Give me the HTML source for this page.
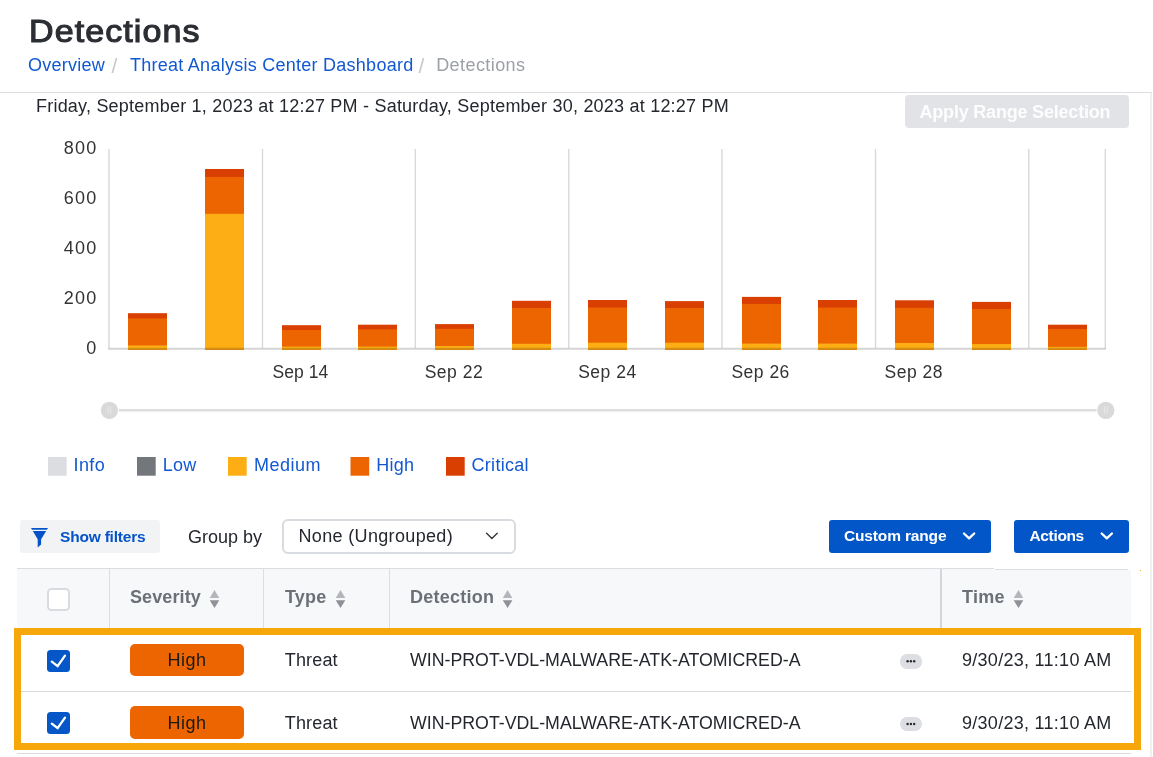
<!DOCTYPE html>
<html lang="en"><head><meta charset="utf-8"><title>Detections</title>
<style>
html,body{margin:0;padding:0;background:#fff;}
body{width:1153px;height:757px;position:relative;overflow:hidden;font-family:"Liberation Sans",sans-serif;}
.t{position:absolute;white-space:nowrap;line-height:1;}
.b{position:absolute;}
svg{position:absolute;left:0;top:0;overflow:visible;}
</style></head><body>

<span class="t" style="left:29.3px;top:16.44px;font-size:31.5px;color:#2b2e33;letter-spacing:1.0px;-webkit-text-stroke:1.1px #2b2e33;transform:scaleX(1.08);transform-origin:0 0;">Detections</span>
<span class="t" style="left:28px;top:56.26px;font-size:18px;color:#1259d1;letter-spacing:0.25px;">Overview</span>
<span class="t" style="left:111.6px;top:54.82px;font-size:21px;color:#c4c7cc;">/</span>
<span class="t" style="left:130px;top:56.26px;font-size:18px;color:#1259d1;letter-spacing:0.26px;">Threat Analysis Center Dashboard</span>
<span class="t" style="left:418.6px;top:54.82px;font-size:21px;color:#c4c7cc;">/</span>
<span class="t" style="left:436.2px;top:56.26px;font-size:18px;color:#9ca0a7;letter-spacing:0.42px;">Detections</span>
<div class="b" style="left:0;top:92px;width:1152px;height:1px;background:#dcdee3"></div>
<div class="b" style="left:1150px;top:93px;width:2px;height:664px;background:#f0f0f1"></div>
<span class="t" style="left:36px;top:96.56px;font-size:18px;color:#24282e;letter-spacing:0.215px;">Friday, September 1, 2023 at 12:27 PM - Saturday, September 30, 2023 at 12:27 PM</span>
<div class="b" style="left:905px;top:95px;width:224px;height:33px;background:#e1e3e6;border-radius:4px"></div>
<span class="t" style="left:919.5px;top:102.96px;font-size:18px;color:#fdfdfd;font-weight:700;letter-spacing:-0.2px;">Apply Range Selection</span>
<svg width="1153" height="757" viewBox="0 0 1153 757" font-family="'Liberation Sans',sans-serif">
<line x1="109.0" y1="149" x2="109.0" y2="348" stroke="#d9d9d9" stroke-width="1.4"/>
<line x1="262.5" y1="149" x2="262.5" y2="348" stroke="#d9d9d9" stroke-width="1.4"/>
<line x1="415.3" y1="149" x2="415.3" y2="348" stroke="#d9d9d9" stroke-width="1.4"/>
<line x1="568.8" y1="149" x2="568.8" y2="348" stroke="#d9d9d9" stroke-width="1.4"/>
<line x1="722.0" y1="149" x2="722.0" y2="348" stroke="#d9d9d9" stroke-width="1.4"/>
<line x1="875.5" y1="149" x2="875.5" y2="348" stroke="#d9d9d9" stroke-width="1.4"/>
<line x1="1028.8" y1="149" x2="1028.8" y2="348" stroke="#d9d9d9" stroke-width="1.4"/>
<line x1="1105.3" y1="149" x2="1105.3" y2="348" stroke="#d9d9d9" stroke-width="1.4"/>
<rect x="128" y="313.2" width="39" height="36.5" fill="#d93f00"/>
<rect x="128" y="318.4" width="39" height="31.3" fill="#ec6500"/>
<rect x="128" y="345.5" width="39" height="4.2" fill="#fdae14"/>
<rect x="205" y="169.0" width="39" height="180.7" fill="#d93f00"/>
<rect x="205" y="176.9" width="39" height="172.8" fill="#ec6500"/>
<rect x="205" y="213.8" width="39" height="135.9" fill="#fdae14"/>
<rect x="282" y="325.2" width="39" height="24.5" fill="#d93f00"/>
<rect x="282" y="330.0" width="39" height="19.7" fill="#ec6500"/>
<rect x="282" y="346.6" width="39" height="3.1" fill="#fdae14"/>
<rect x="358" y="324.7" width="39" height="25.0" fill="#d93f00"/>
<rect x="358" y="329.4" width="39" height="20.3" fill="#ec6500"/>
<rect x="358" y="346.6" width="39" height="3.1" fill="#fdae14"/>
<rect x="435" y="324.1" width="39" height="25.6" fill="#d93f00"/>
<rect x="435" y="328.8" width="39" height="20.9" fill="#ec6500"/>
<rect x="435" y="346.0" width="39" height="3.7" fill="#fdae14"/>
<rect x="512" y="300.8" width="39" height="48.9" fill="#d93f00"/>
<rect x="512" y="308.0" width="39" height="41.7" fill="#ec6500"/>
<rect x="512" y="343.8" width="39" height="5.9" fill="#fdae14"/>
<rect x="588" y="300.0" width="39" height="49.7" fill="#d93f00"/>
<rect x="588" y="307.5" width="39" height="42.2" fill="#ec6500"/>
<rect x="588" y="342.7" width="39" height="7.0" fill="#fdae14"/>
<rect x="665" y="301.1" width="39" height="48.6" fill="#d93f00"/>
<rect x="665" y="308.0" width="39" height="41.7" fill="#ec6500"/>
<rect x="665" y="342.7" width="39" height="7.0" fill="#fdae14"/>
<rect x="742" y="296.9" width="39" height="52.8" fill="#d93f00"/>
<rect x="742" y="303.9" width="39" height="45.8" fill="#ec6500"/>
<rect x="742" y="343.6" width="39" height="6.1" fill="#fdae14"/>
<rect x="818" y="300.0" width="39" height="49.7" fill="#d93f00"/>
<rect x="818" y="307.5" width="39" height="42.2" fill="#ec6500"/>
<rect x="818" y="343.6" width="39" height="6.1" fill="#fdae14"/>
<rect x="895" y="300.3" width="39" height="49.4" fill="#d93f00"/>
<rect x="895" y="307.8" width="39" height="41.9" fill="#ec6500"/>
<rect x="895" y="343.0" width="39" height="6.7" fill="#fdae14"/>
<rect x="972" y="301.9" width="39" height="47.8" fill="#d93f00"/>
<rect x="972" y="309.1" width="39" height="40.6" fill="#ec6500"/>
<rect x="972" y="344.1" width="39" height="5.6" fill="#fdae14"/>
<rect x="1048" y="324.7" width="39" height="25.0" fill="#d93f00"/>
<rect x="1048" y="329.1" width="39" height="20.6" fill="#ec6500"/>
<rect x="1048" y="346.9" width="39" height="2.8" fill="#fdae14"/>
<line x1="108" y1="348.7" x2="1106" y2="348.7" stroke="#000" stroke-opacity="0.17" stroke-width="2"/>
<text x="97.5" y="154" font-size="18" fill="#333" text-anchor="end" letter-spacing="1.2">800</text>
<text x="97.5" y="204" font-size="18" fill="#333" text-anchor="end" letter-spacing="1.2">600</text>
<text x="97.5" y="254" font-size="18" fill="#333" text-anchor="end" letter-spacing="1.2">400</text>
<text x="97.5" y="304" font-size="18" fill="#333" text-anchor="end" letter-spacing="1.2">200</text>
<text x="97.5" y="354" font-size="18" fill="#333" text-anchor="end" letter-spacing="1.2">0</text>
<text x="272.4" y="377.8" font-size="17.5" fill="#333" letter-spacing="0.1">Sep 14</text>
<text x="424.7" y="377.8" font-size="17.5" fill="#333" letter-spacing="0.5">Sep 22</text>
<text x="578.2" y="377.8" font-size="17.5" fill="#333" letter-spacing="0.5">Sep 24</text>
<text x="731.4" y="377.8" font-size="17.5" fill="#333" letter-spacing="0.5">Sep 26</text>
<text x="884.6" y="377.8" font-size="17.5" fill="#333" letter-spacing="0.5">Sep 28</text>
<line x1="118.8" y1="410.3" x2="1096.5" y2="410.3" stroke="#dedede" stroke-width="2.6"/>
<circle cx="109.4" cy="410.3" r="8.6" fill="#d9d9d9"/>
<path d="M108.10000000000001 406.3v7M110.7 406.3v7" stroke="#e8e8e8" stroke-width="1" fill="none"/>
<circle cx="1105.8" cy="410.3" r="8.6" fill="#d9d9d9"/>
<path d="M1104.5 406.3v7M1107.1 406.3v7" stroke="#e8e8e8" stroke-width="1" fill="none"/>
<rect x="48" y="457" width="18.7" height="18.7" fill="#dbdde1"/>
<rect x="137" y="457" width="18.7" height="18.7" fill="#73777c"/>
<rect x="228" y="457" width="18.7" height="18.7" fill="#fdae14"/>
<rect x="350.5" y="457" width="18.7" height="18.7" fill="#ec6500"/>
<rect x="446" y="457" width="18.7" height="18.7" fill="#d93f00"/>
</svg>
<span class="t" style="left:73.5px;top:455.76px;font-size:18px;color:#1259d1;letter-spacing:0.4px;">Info</span>
<span class="t" style="left:162.7px;top:455.76px;font-size:18px;color:#1259d1;letter-spacing:0.3px;">Low</span>
<span class="t" style="left:253.9px;top:455.76px;font-size:18px;color:#1259d1;letter-spacing:0.5px;">Medium</span>
<span class="t" style="left:376.3px;top:455.76px;font-size:18px;color:#1259d1;letter-spacing:0.2px;">High</span>
<span class="t" style="left:471.5px;top:455.76px;font-size:18px;color:#1259d1;letter-spacing:0.3px;">Critical</span>
<div class="b" style="left:20px;top:520px;width:140px;height:33px;background:#f1f3f5;border-radius:3px"></div>
<svg width="1153" height="757" viewBox="0 0 1153 757"><path d="M31 528H48L46.9 529.8H32.1ZM32.8 531H46.2L41.1 539.2V544.6L37.7 547.5V539.2Z" fill="#0553c9"/></svg>
<span class="t" style="left:60px;top:529.48px;font-size:15.5px;color:#0553c9;font-weight:700;letter-spacing:-0.2px;">Show filters</span>
<span class="t" style="left:188px;top:528.26px;font-size:18px;color:#24282e;">Group by</span>
<div class="b" style="left:282px;top:519px;width:230px;height:31px;border:2px solid #d8dbe0;border-radius:6px;background:#fff"></div>
<span class="t" style="left:298.5px;top:526.96px;font-size:18px;color:#24282e;letter-spacing:0.34px;">None (Ungrouped)</span>
<svg width="1153" height="757" viewBox="0 0 1153 757"><path d="M486.6 533.3l5.3 5.2 5.3-5.2" stroke="#3a3d42" stroke-width="1.5" fill="none" stroke-linecap="round" stroke-linejoin="round"/></svg>
<div class="b" style="left:829px;top:520px;width:162px;height:32.5px;background:#0256c8;border-radius:3px"></div>
<span class="t" style="left:844px;top:528.38px;font-size:15.5px;color:#fff;font-weight:700;letter-spacing:-0.15px;">Custom range</span>
<div class="b" style="left:1014px;top:520px;width:115px;height:32.5px;background:#0256c8;border-radius:3px"></div>
<span class="t" style="left:1029.5px;top:528.38px;font-size:15.5px;color:#fff;font-weight:700;letter-spacing:-0.35px;">Actions</span>
<svg width="1153" height="757" viewBox="0 0 1153 757"><path d="M964 533.5l5.1 4.9 5.1-4.9M1101.7 533.5l5.1 4.9 5.1-4.9" stroke="#fff" stroke-width="2.3" fill="none" stroke-linecap="round" stroke-linejoin="round"/></svg>
<div class="b" style="left:17px;top:569px;width:977px;height:59px;background:#f7f8fa"></div>
<div class="b" style="left:994px;top:570px;width:137px;height:58px;background:#f7f8fa"></div>
<div class="b" style="left:17px;top:568px;width:977px;height:1px;background:#dcdde2"></div>
<div class="b" style="left:995px;top:569px;width:133px;height:1px;background:#dcdde2"></div>
<div class="b" style="left:109px;top:569px;width:1px;height:59px;background:#dcdee3"></div>
<div class="b" style="left:263px;top:569px;width:1px;height:59px;background:#dcdee3"></div>
<div class="b" style="left:389px;top:569px;width:1px;height:59px;background:#dcdee3"></div>
<div class="b" style="left:940px;top:569px;width:2px;height:59px;background:#d3d6db"></div>
<div class="b" style="left:1140px;top:570px;width:1px;height:1px;background:#f5a70a"></div>
<div class="b" style="left:47px;top:588px;width:19px;height:19px;border:2px solid #d8dbe0;border-radius:4.5px;background:#fff"></div>
<span class="t" style="left:130px;top:587.56px;font-size:18px;color:#6c7178;font-weight:700;letter-spacing:0.1px;">Severity</span>
<svg width="1153" height="757" viewBox="0 0 1153 757"><path d="M209.7 598l4.8-8 4.8 8z" fill="#b3b6bb"/><path d="M209.7 600.2l4.8 7.8 4.8-7.8z" fill="#8e9197"/></svg>
<span class="t" style="left:285px;top:587.56px;font-size:18px;color:#6c7178;font-weight:700;letter-spacing:0.2px;">Type</span>
<svg width="1153" height="757" viewBox="0 0 1153 757"><path d="M335.7 598l4.8-8 4.8 8z" fill="#b3b6bb"/><path d="M335.7 600.2l4.8 7.8 4.8-7.8z" fill="#8e9197"/></svg>
<span class="t" style="left:410px;top:587.56px;font-size:18px;color:#6c7178;font-weight:700;letter-spacing:0.25px;">Detection</span>
<svg width="1153" height="757" viewBox="0 0 1153 757"><path d="M502.8 598l4.8-8 4.8 8z" fill="#b3b6bb"/><path d="M502.8 600.2l4.8 7.8 4.8-7.8z" fill="#8e9197"/></svg>
<span class="t" style="left:962px;top:587.56px;font-size:18px;color:#6c7178;font-weight:700;letter-spacing:0.25px;">Time</span>
<svg width="1153" height="757" viewBox="0 0 1153 757"><path d="M1013.7 598l4.8-8 4.8 8z" fill="#b3b6bb"/><path d="M1013.7 600.2l4.8 7.8 4.8-7.8z" fill="#8e9197"/></svg>
<div class="b" style="left:17px;top:691px;width:1114px;height:1px;background:#d9dbe1"></div>
<div class="b" style="left:17px;top:753px;width:1114px;height:1px;background:#d9dbe1"></div>
<div class="b" style="left:47px;top:650px;width:23px;height:22px;background:#0557c8;border-radius:3.5px"></div>
<svg width="1153" height="757" viewBox="0 0 1153 757"><path d="M51.8 661.6l5.8 4.6 7.4-10.6" stroke="#fff" stroke-width="2.3" fill="none" stroke-linecap="round" stroke-linejoin="round"/></svg>
<div class="b" style="left:130px;top:644px;width:114px;height:32px;background:#ec6500;border-radius:5px"></div>
<span class="t" style="left:167.5px;top:651.16px;font-size:18px;color:#1a1a1a;letter-spacing:0.5px;">High</span>
<span class="t" style="left:284.8px;top:651.06px;font-size:18px;color:#24282e;letter-spacing:0.15px;">Threat</span>
<span class="t" style="left:410px;top:651.87px;font-size:17.75px;color:#24282e;">WIN-PROT-VDL-MALWARE-ATK-ATOMICRED-A</span>
<div class="b" style="left:900px;top:654.3px;width:22px;height:14.3px;background:#dcdee3;border-radius:7px"></div>
<svg width="1153" height="757" viewBox="0 0 1153 757"><circle cx="907.6" cy="661.3" r="1.2" fill="#2a2a2a"/><circle cx="910.9" cy="661.3" r="1.2" fill="#2a2a2a"/><circle cx="914.2" cy="661.3" r="1.2" fill="#2a2a2a"/></svg>
<span class="t" style="left:962px;top:651.06px;font-size:18px;color:#24282e;letter-spacing:0.28px;">9/30/23, 11:10 AM</span>
<div class="b" style="left:47px;top:712px;width:23px;height:22px;background:#0557c8;border-radius:3.5px"></div>
<svg width="1153" height="757" viewBox="0 0 1153 757"><path d="M51.8 723.6l5.8 4.6 7.4-10.6" stroke="#fff" stroke-width="2.3" fill="none" stroke-linecap="round" stroke-linejoin="round"/></svg>
<div class="b" style="left:130px;top:706px;width:114px;height:33px;background:#ec6500;border-radius:5px"></div>
<span class="t" style="left:167.5px;top:714.16px;font-size:18px;color:#1a1a1a;letter-spacing:0.5px;">High</span>
<span class="t" style="left:284.8px;top:714.06px;font-size:18px;color:#24282e;letter-spacing:0.15px;">Threat</span>
<span class="t" style="left:410px;top:714.87px;font-size:17.75px;color:#24282e;">WIN-PROT-VDL-MALWARE-ATK-ATOMICRED-A</span>
<div class="b" style="left:900px;top:717.0px;width:22px;height:14.3px;background:#dcdee3;border-radius:7px"></div>
<svg width="1153" height="757" viewBox="0 0 1153 757"><circle cx="907.6" cy="724.0" r="1.2" fill="#2a2a2a"/><circle cx="910.9" cy="724.0" r="1.2" fill="#2a2a2a"/><circle cx="914.2" cy="724.0" r="1.2" fill="#2a2a2a"/></svg>
<span class="t" style="left:962px;top:714.06px;font-size:18px;color:#24282e;letter-spacing:0.28px;">9/30/23, 11:10 AM</span>
<div class="b" style="left:14px;top:628px;width:1113px;height:108px;border:7px solid #f6a70a"></div>
</body></html>
